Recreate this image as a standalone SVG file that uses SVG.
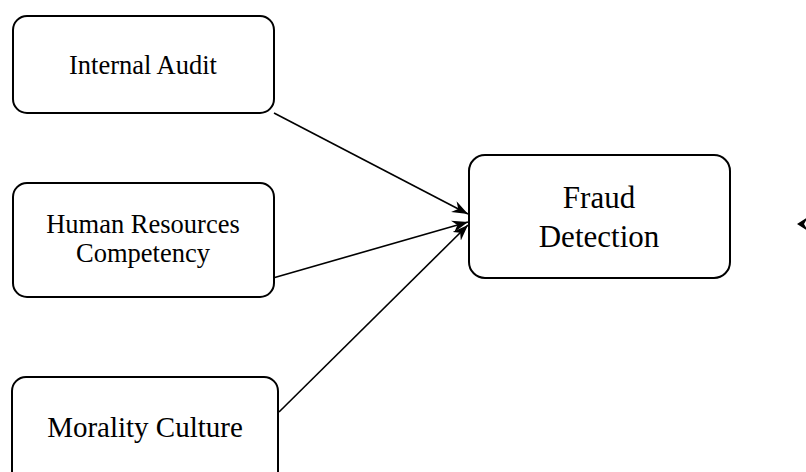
<svg xmlns="http://www.w3.org/2000/svg" width="806" height="472" viewBox="0 0 806 472">
<defs>
<marker id="ah" markerUnits="userSpaceOnUse" markerWidth="18" markerHeight="14" refX="16" refY="6" orient="auto">
<path d="M0,0 L16,6 L0,12 L5,6 z" fill="#000"/>
</marker>
<style>
.box{fill:#fff;stroke:#000;stroke-width:2}
.t{font-family:"Liberation Serif","Times New Roman",serif;fill:#000;text-anchor:middle}
.e{stroke:#000;stroke-width:1.6;fill:none;marker-end:url(#ah)}
</style>
</defs>
<rect width="806" height="472" fill="#fff"/>
<g id="connectors">
<line class="e" x1="274" y1="113" x2="468" y2="214"/>
<line class="e" x1="273" y1="278" x2="468" y2="222"/>
<line class="e" x1="279" y1="412" x2="468" y2="225"/>
</g>
<g id="internal-audit">
<rect class="box" x="13" y="16" width="261" height="97" rx="14"/>
<text class="t" x="143" y="74" font-size="26.5">Internal Audit</text>
</g>
<g id="hr-competency">
<rect class="box" x="13" y="183" width="261" height="114" rx="14"/>
<text class="t" x="143" y="233" font-size="26.5">Human Resources</text>
<text class="t" x="143" y="262" font-size="26.5">Competency</text>
</g>
<g id="morality-culture">
<rect class="box" x="12" y="377" width="266" height="110" rx="14"/>
<text class="t" x="145" y="437" font-size="29">Morality Culture</text>
</g>
<g id="fraud-detection">
<rect class="box" x="469" y="155" width="261" height="123" rx="16"/>
<text class="t" x="599" y="208" font-size="31">Fraud</text>
<text class="t" x="599" y="247" font-size="31">Detection</text>
</g>
<g id="stray-arrowhead">
<polygon points="797,224 808,217 804,224 808,231" fill="#000"/>
</g>
</svg>
